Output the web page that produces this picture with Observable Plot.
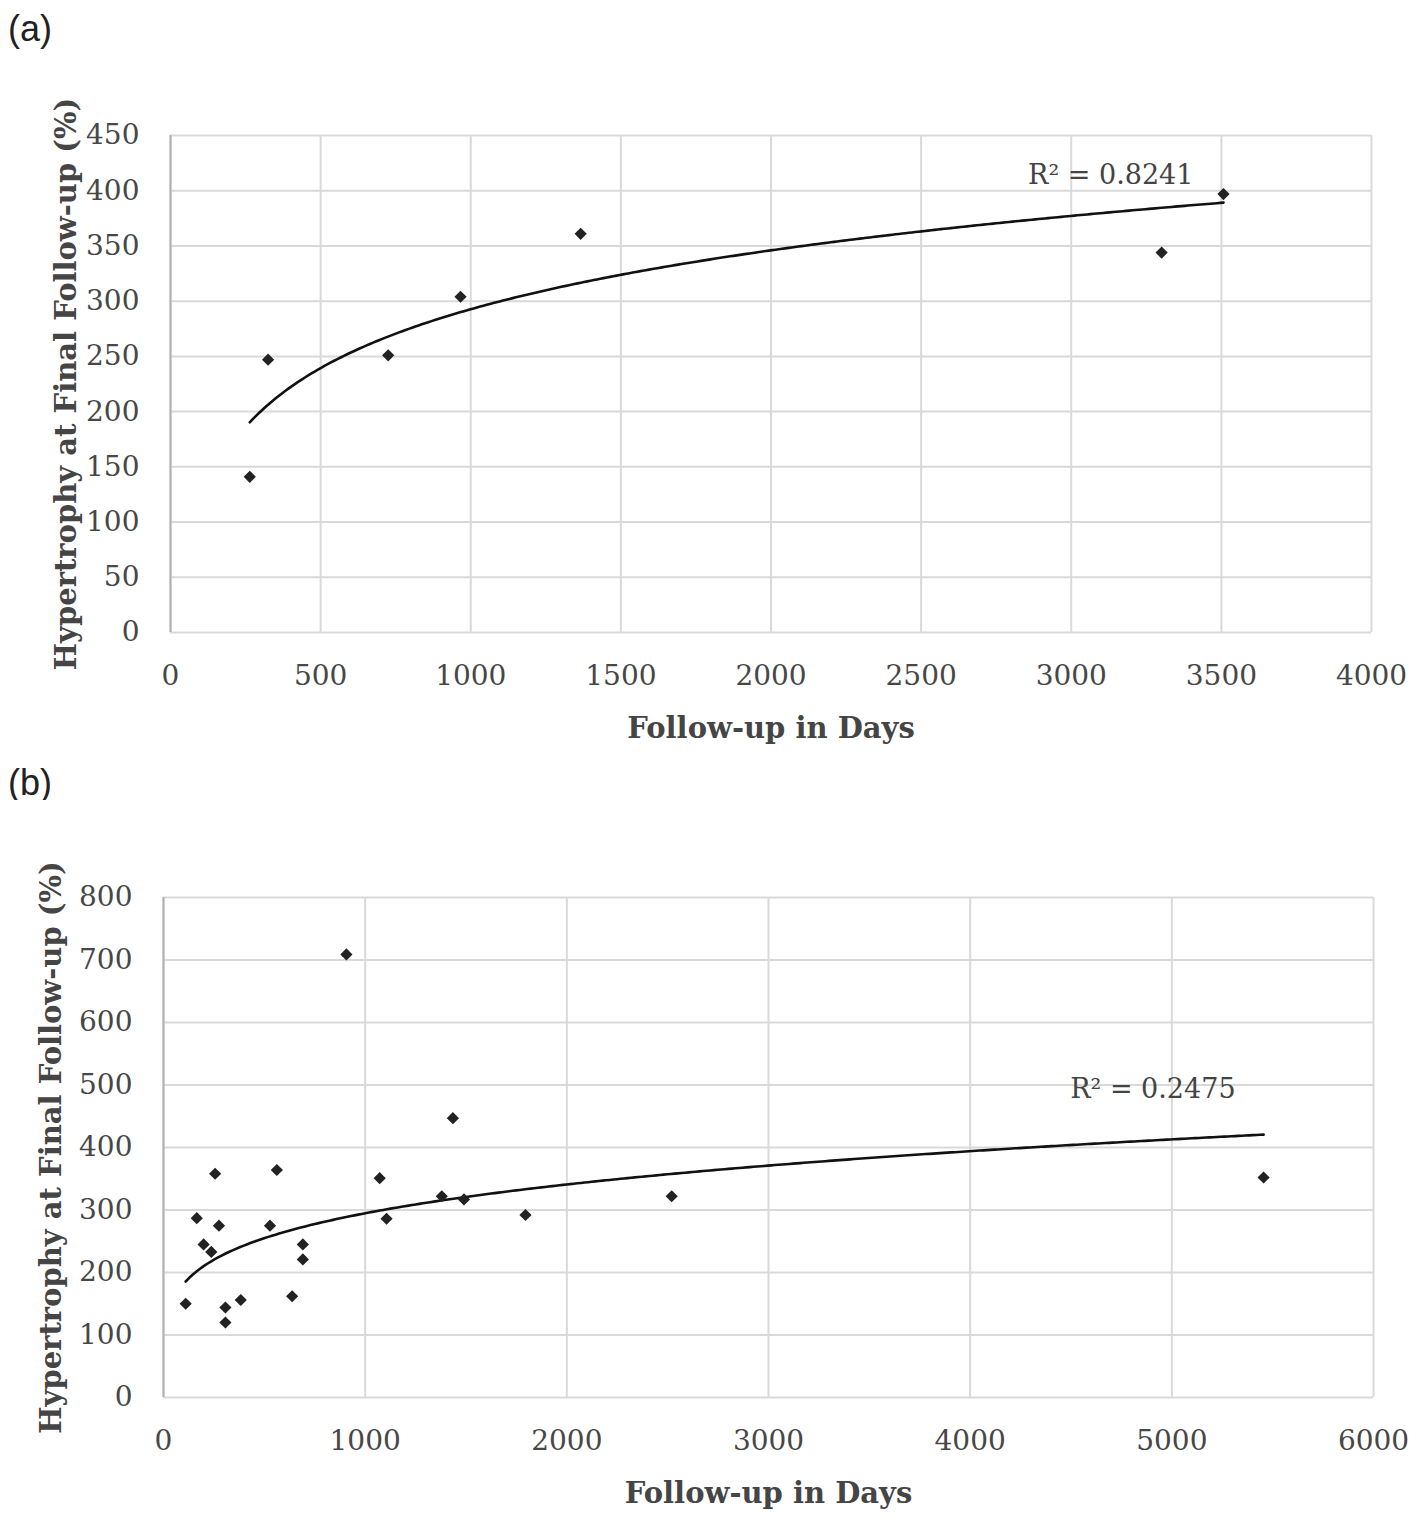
<!DOCTYPE html>
<html>
<head>
<meta charset="utf-8">
<script src="https://cdn.jsdelivr.net/npm/d3@7"></script>
<script src="https://cdn.jsdelivr.net/npm/@observablehq/plot@0.6"></script>
<style>
  html, body { margin: 0; padding: 0; background: #fff; }
  body { width: 1420px; height: 1520px; position: relative; overflow: hidden; }
  .panel-label { position: absolute; left: 8px; font-family: "Liberation Sans", Arial, sans-serif; font-size: 36px; color: #222; }
  .chart { position: absolute; left: 0; }
  .chart svg { overflow: visible; }
</style>
</head>
<body>
<div class="panel-label" style="top:8px">(a)</div>
<div class="chart" id="chartA" style="top:60px"></div>
<div class="panel-label" style="top:762px">(b)</div>
<div class="chart" id="chartB" style="top:800px"></div>
<script>
// ---------- Data ----------
// Panel (a)
const aDays = [264, 325, 725, 966, 1366, 3301, 3507];
const aHypertrophy = [141, 247, 251, 304, 361, 344, 397];
const aTicksX = [0, 500, 1000, 1500, 2000, 2500, 3000, 3500, 4000];
const aTicksY = [0, 50, 100, 150, 200, 250, 300, 350, 400, 450];
const aTrendType = "log";
const aR2 = "R² = 0.8241";

// Panel (b)
const bDays = [110, 165, 256, 275, 199, 237, 307, 307, 383, 562, 528, 691, 691, 638,
               907, 1072, 1106, 1380, 1435, 1490, 1795, 2520, 5455];
const bHypertrophy = [150, 287, 358, 275, 245, 233, 144, 120, 156, 364, 275, 245, 221, 162,
                      709, 351, 286, 322, 447, 317, 292, 322, 352];
const bTicksX = [0, 1000, 2000, 3000, 4000, 5000, 6000];
const bTicksY = [0, 100, 200, 300, 400, 500, 600, 700, 800];
const bTrendType = "power";
const bR2 = "R² = 0.2475";

const xTitle = "Follow-up in Days";
const yTitle = "Hypertrophy at Final Follow-up (%)";

// ---------- Helpers ----------
function linFit(us, vs) {
  const mu = d3.mean(us), mv = d3.mean(vs);
  let suv = 0, suu = 0;
  us.forEach((u, i) => { suv += (u - mu) * (vs[i] - mv); suu += (u - mu) * (u - mu); });
  const a = suv / suu;
  return [a, mv - a * mu];
}

function trendFn(xs, ys, type) {
  if (type === "power") {
    const [k, c] = linFit(xs.map(Math.log), ys.map(Math.log));
    return x => Math.exp(c) * Math.pow(x, k);
  }
  const [a, b] = linFit(xs.map(Math.log), ys);
  return x => a * Math.log(x) + b;
}

function trendPoints(xs, ys, type) {
  const f = trendFn(xs, ys, type);
  const [x0, x1] = d3.extent(xs);
  return d3.range(0, 301).map(i => {
    const x = x0 + (x1 - x0) * i / 300;
    return {x, y: f(x)};
  });
}

const FONT = '"DejaVu Serif", serif';

function makeChart({days, hyp, ticksX, ticksY, trendType, r2, marginTop, marginBottom, marginLeft, marginRight, height, xTitleDy, yTitleDx, r2dx, r2dy}) {
  const pts = days.map((d, i) => ({x: d, y: hyp[i]}));
  const trend = trendPoints(days, hyp, trendType);
  const last = trend[trend.length - 1];
  const x0 = ticksX[0], x1 = ticksX[ticksX.length - 1];
  const y0 = ticksY[0], y1 = ticksY[ticksY.length - 1];
  return Plot.plot({
    width: 1420,
    height,
    marginTop, marginBottom, marginLeft, marginRight,
    style: {fontFamily: FONT, background: "white"},
    x: {domain: [x0, x1]},
    y: {domain: [y0, y1]},
    marks: [
      Plot.gridX(ticksX, {stroke: "#d9d9d9", strokeOpacity: 1, strokeWidth: 2}),
      Plot.gridY(ticksY, {stroke: "#d9d9d9", strokeOpacity: 1, strokeWidth: 2}),
      Plot.ruleX([x0], {stroke: "#b0b0b0", strokeWidth: 2}),
      Plot.axisX(ticksX, {tickSize: 0, tickPadding: 33, fontSize: 28, label: null, fill: "#474747", tickFormat: d => String(d)}),
      Plot.axisY(ticksY, {tickSize: 0, tickPadding: 31, fontSize: 28, label: null, fill: "#474747", tickFormat: d => String(d)}),
      Plot.text([xTitle], {x: (x0 + x1) / 2, frameAnchor: "bottom", dy: xTitleDy, fontSize: 29, fontWeight: "bold", fill: "#454545", fontFamily: FONT}),
      Plot.text([yTitle], {x: x0, y: (y0 + y1) / 2, dx: yTitleDx, rotate: -90, fontSize: 29, fontWeight: "bold", fill: "#454545", fontFamily: FONT}),
      Plot.line(trend, {x: "x", y: "y", stroke: "#111", strokeWidth: 2.6}),
      Plot.dot(pts, {x: "x", y: "y", symbol: "diamond2", r: 5.5, fill: "#222", stroke: "none"}),
      Plot.text([last], {x: "x", y: "y", text: () => r2, textAnchor: "end", dx: r2dx, dy: r2dy, fontSize: 27, fill: "#444", fontFamily: FONT})
    ]
  });
}

document.getElementById("chartA").appendChild(makeChart({
  days: aDays, hyp: aHypertrophy, ticksX: aTicksX, ticksY: aTicksY, trendType: aTrendType, r2: aR2,
  marginTop: 75, marginBottom: 128, marginLeft: 170, marginRight: 49, height: 700,
  xTitleDy: 105, yTitleDx: -104, r2dx: -30, r2dy: -27
}));

document.getElementById("chartB").appendChild(makeChart({
  days: bDays, hyp: bHypertrophy, ticksX: bTicksX, ticksY: bTicksY, trendType: bTrendType, r2: bR2,
  marginTop: 97, marginBottom: 123, marginLeft: 163, marginRight: 47, height: 720,
  xTitleDy: 105, yTitleDx: -112, r2dx: -28, r2dy: -45
}));
</script>
</body>
</html>
